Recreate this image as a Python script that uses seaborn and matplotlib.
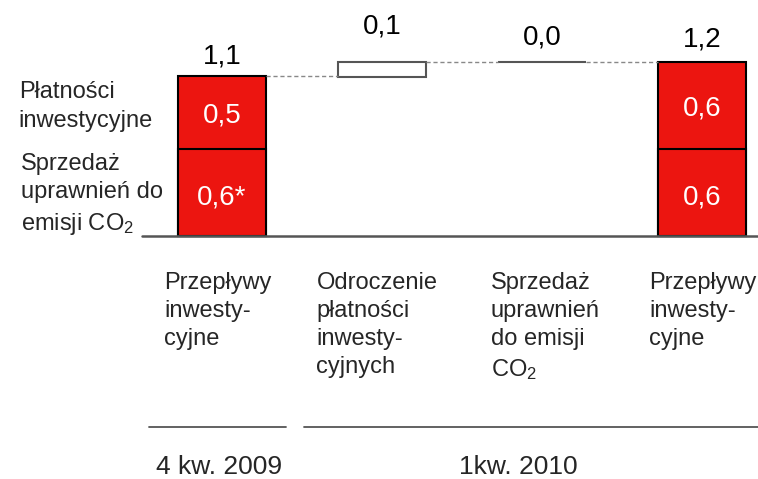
import pandas as pd
import seaborn as sns
import matplotlib.pyplot as plt

# data
steps = ["start", "deferral", "co2", "end"]
step_labels = [
    "Przepływy\ninwesty-\ncyjne",
    "Odroczenie\npłatności\ninwesty-\ncyjnych",
    "Sprzedaż\nuprawnień\ndo emisji\nCO$_\\mathregular{2}$",
    "Przepływy\ninwesty-\ncyjne",
]
stacked_steps = ["start", "end"]
co2_sales = [0.6, 0.6]          # lower segment
invest_payments = [0.5, 0.6]    # upper segment
inner_labels_low = ["0,6*", "0,6"]
inner_labels_high = ["0,5", "0,6"]
changes = [0.1, 0.0]            # floating steps (deferral, co2)
total_labels = ["1,1", "0,1", "0,0", "1,2"]
segment_names = ["Płatności\ninwestycyjne", "Sprzedaż\nuprawnień do\nemisji CO$_\\mathregular{2}$"]
periods = ["4 kw. 2009", "1kw. 2010"]

RED = "#EC1510"
BAR_W = 0.55

sns.set_theme(style="white")
plt.rcParams["font.family"] = ["Liberation Sans", "DejaVu Sans"]
plt.rcParams["mathtext.fontset"] = "custom"
plt.rcParams["mathtext.rm"] = "Liberation Sans"
plt.rcParams["mathtext.it"] = "Liberation Sans:italic"

df = pd.DataFrame({
    "step": stacked_steps,
    "low": co2_sales,
    "high": invest_payments,
})
df["total"] = df["low"] + df["high"]

fig = plt.figure(figsize=(7.58, 4.79), dpi=100)
ax = fig.add_axes([0, 0, 1, 1])

# stacked red bars: totals first, then the lower part on top of them
sns.barplot(data=df, x="step", y="total", order=steps, color=RED, saturation=1,
            width=BAR_W, edgecolor="black", linewidth=1.5, errorbar=None, ax=ax)
sns.barplot(data=df, x="step", y="low", order=steps, color=RED, saturation=1,
            width=BAR_W, edgecolor="black", linewidth=1.5, errorbar=None, ax=ax)

# floating steps of the waterfall
level = df["total"].iloc[0]
levels = [level]
for i, ch in enumerate(changes, start=1):
    ax.bar(i, ch, bottom=level, width=BAR_W, facecolor="white",
           edgecolor="#555555", linewidth=1.5)
    level += ch
    levels.append(level)

# dashed connectors between neighbouring bars
for i, y in enumerate(levels):
    ax.plot([i + BAR_W / 2, i + 1 - BAR_W / 2], [y, y], color="#888888",
            lw=1, ls=(0, (3, 2)))

# baseline
ax.plot([-0.5, 3.35], [0, 0], color="#555555", lw=1.8)

# totals above bars
label_tops = [levels[0], levels[1], levels[2], df["total"].iloc[1]]
label_gap = [0.141, 0.248, 0.166, 0.152]
for i, lab in enumerate(total_labels):
    ax.text(i, label_tops[i] + label_gap[i], lab, ha="center", va="center",
            fontsize=20, color="black")

# inner segment labels
for j, step in enumerate(stacked_steps):
    i = steps.index(step)
    low, high = co2_sales[j], invest_payments[j]
    ax.text(i, low / 2 - 0.035, inner_labels_low[j], ha="center", va="center",
            fontsize=20, color="white")
    ax.text(i, low + high / 2 - 0.02, inner_labels_high[j], ha="center", va="center",
            fontsize=20, color="white")

# segment names on the left
ax.text(-1.27, 0.895, segment_names[0], ha="left", va="center", fontsize=17,
        linespacing=1.4)
ax.text(-1.255, 0.285, segment_names[1], ha="left", va="center", fontsize=17,
        linespacing=1.38)

# category labels under the bars
label_dx = [-0.36, -0.41, -0.32, -0.33]
for i, lab in enumerate(step_labels):
    ax.text(i + label_dx[i], -0.245, lab, ha="left", va="top", fontsize=17,
            linespacing=1.36)

# period separators and names
ax.plot([-0.455, 0.40], [-1.32, -1.32], color="#555555", lw=1.3)
ax.plot([0.51, 3.36], [-1.32, -1.32], color="#555555", lw=1.3)
ax.text(-0.02, -1.593, periods[0], ha="center", va="center", fontsize=19)
ax.text(1.85, -1.593, periods[1], ha="center", va="center", fontsize=19)

ax.set_xlim(-222 / 160, (758 - 222) / 160)
ax.set_ylim(-(479 - 236) / 145, 236 / 145)
ax.axis("off")

fig.savefig("out.png", dpi=100)
